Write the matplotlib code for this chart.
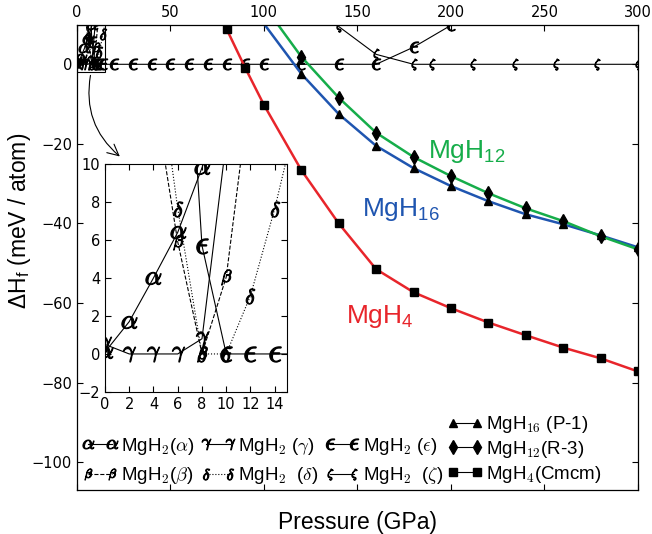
import numpy as np
import matplotlib.pyplot as plt
from matplotlib.patches import Rectangle
from matplotlib.lines import Line2D

plt.rcParams['mathtext.fontset'] = 'cm'
plt.rcParams['font.family'] = ['Liberation Sans', 'DejaVu Sans']

# MgH2 phases, enthalpy of formation relative to reference (meV/atom)
p_alpha = [0, 2, 4, 6, 8, 10]
h_alpha = [0.1, 1.7, 4.0, 6.4, 9.8, 13.5]
p_beta = [4, 6, 8, 10, 12]
h_beta = [13.9, 5.9, 0.0, 4.05, 14.2]
p_gamma = [0, 2, 4, 6, 8, 10]
h_gamma = [0.5, 0.0, 0.0, 0.0, 0.8, 11.2]
p_delta = [4, 6, 8, 10, 12, 14, 16]
h_delta = [17.0, 7.65, 0.0, 0.0, 3.07, 7.65, 13.0]
p_eps = [6, 8, 10, 12, 14, 20, 30, 40, 50, 60, 70, 80, 90, 100, 120, 140, 160, 180, 200]
h_eps = [26.0, 5.7, 0, 0, 0, 0, 0, 0, 0, 0, 0, 0, 0, 0, 0, 0, 0, 4.3, 9.8]
p_zeta = [140, 160, 180, 190, 212, 234, 256, 278, 300]
h_zeta = [9.5, 2.5, 0, 0, 0, 0, 0, 0, 0]

# other hydrides
p_mgh4 = [80, 90, 100, 120, 140, 160, 180, 200, 220, 240, 260, 280, 300]
h_mgh4 = [8.9, -0.9, -10.2, -26.6, -40.0, -51.5, -57.3, -61.3, -64.9, -68.1, -71.2, -73.9, -77.2]
p_mgh16 = [90, 120, 140, 160, 180, 200, 220, 240, 260, 280, 300]
h_mgh16 = [16.5, -2.4, -12.5, -20.5, -26.1, -30.6, -34.4, -37.7, -40.2, -43.0, -46.0]
p_mgh12 = [100, 120, 140, 160, 180, 200, 220, 240, 260, 280, 300]
h_mgh12 = [14.8, 1.9, -8.4, -17.2, -23.3, -28.1, -32.4, -36.2, -39.4, -43.2, -46.5]

red = '#e8252b'
blue = '#1f55b0'
green = '#16ad4a'

phases = [
    (p_alpha, h_alpha, r'$\alpha$', '-', r'MgH$_2$($\alpha$)'),
    (p_beta, h_beta, r'$\beta$', '--', r'MgH$_2$($\beta$)'),
    (p_gamma, h_gamma, r'$\gamma$', '-', r'MgH$_2$ ($\gamma$)'),
    (p_delta, h_delta, r'$\delta$', ':', r'MgH$_2$  ($\delta$)'),
    (p_eps, h_eps, r'$\epsilon$', '-', r'MgH$_2$ ($\epsilon$)'),
    (p_zeta, h_zeta, r'$\zeta$', '-', r'MgH$_2$  ($\zeta$)'),
]

fig = plt.figure(figsize=(6.52, 5.34), dpi=100)
ax = fig.add_axes([0.118, 0.0824, 0.8604, 0.8717])

h_phase = []
for p, h, m, ls, lab in phases:
    l, = ax.plot(p, h, color='k', lw=0.8, ls=ls, marker=m, ms=8, mew=0.8, label=lab)
    h_phase.append(l)

ax.plot(p_mgh16, h_mgh16, color=blue, lw=1.8, marker='^', ms=6, mfc='k', mec='k')
ax.plot(p_mgh12, h_mgh12, color=green, lw=1.8, marker='d', ms=7, mfc='k', mec='k')
ax.plot(p_mgh4, h_mgh4, color=red, lw=1.8, marker='s', ms=6, mfc='k', mec='k')

# legend entries for the hydrides are drawn in black
h_other = [
    Line2D([], [], color='k', lw=0.8, marker='^', ms=6, label=r'MgH$_{16}$ (P-1)'),
    Line2D([], [], color='k', lw=0.8, marker='d', ms=7, label=r'MgH$_{12}$(R-3)'),
    Line2D([], [], color='k', lw=0.8, marker='s', ms=6, label=r'MgH$_4$(Cmcm)'),
]

ax.add_patch(Rectangle((0, -2), 15, 12, fill=False, lw=0.8, ec='k'))

ax.set_xlim(0, 300)
ax.set_ylim(-107, 10)
ax.set_xticks(np.arange(0, 301, 50))
ax.set_yticks(np.arange(-100, 1, 20))
ax.tick_params(direction='in', top=True, right=True, labeltop=True, labelbottom=False,
               length=4, width=0.8, labelsize=10.5, labelfontfamily='DejaVu Sans')
for s in ax.spines.values():
    s.set_linewidth(0.9)

ax.set_xlabel('Pressure (GPa)', fontsize=16.5, labelpad=15)
ax.set_ylabel(r'ΔH$\mathregular{_f}$ (meV / atom)', fontsize=16.5)
ax.yaxis.set_label_coords(-0.078, 0.578)

ax.text(187.7, -23.5, r'MgH$\mathregular{_{12}}$', color=green, fontsize=19)
ax.text(152.4, -38.2, r'MgH$\mathregular{_{16}}$', color=blue, fontsize=19)
ax.text(143.9, -65.1, r'MgH$\mathregular{_{4}}$', color=red, fontsize=19)

leg1 = fig.legend(handles=h_phase, ncol=3, frameon=False, fontsize=13.5, numpoints=2,
                  loc='upper left', bbox_to_anchor=(0.112, 0.201), borderpad=0,
                  handlelength=1.9, handletextpad=0.15, columnspacing=0.3,
                  labelspacing=0.45)
leg2 = fig.legend(handles=h_other, frameon=False, fontsize=13.5, numpoints=2,
                  loc='upper left', bbox_to_anchor=(0.6715, 0.242), borderpad=0,
                  handlelength=1.9, handletextpad=0.15, labelspacing=0.2)

# inset zoom on low pressure
axin = fig.add_axes([0.161, 0.266, 0.279, 0.427])
for p, h, m, ls, lab in phases:
    axin.plot(p, h, color='k', lw=0.8, ls=ls, marker=m, ms=11, mew=0.8)
axin.set_xlim(0, 15)
axin.set_ylim(-2, 10)
axin.set_xticks(np.arange(0, 15, 2))
axin.set_yticks(np.arange(-2, 11, 2))
axin.tick_params(direction='in', top=True, right=True, length=4, width=0.8,
                 labelsize=10.5, labelfontfamily='DejaVu Sans')

ax.annotate('', xy=(1.4, 10.3), xycoords=axin.transData,
            xytext=(7.5, -2.1), textcoords=ax.transData, annotation_clip=False,
            arrowprops=dict(arrowstyle='->', connectionstyle='arc3,rad=0.3',
                            lw=0.8, color='k', mutation_scale=20))

fig.savefig('out.png', dpi=100)
